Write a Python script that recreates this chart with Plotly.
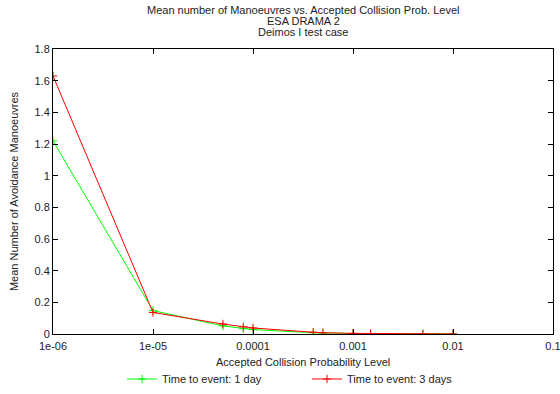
import math
import plotly.graph_objects as go

prob_levels = [1e-6, 1e-5, 5e-5, 8e-5, 1e-4, 4e-4, 5e-4, 1e-3, 1.5e-3, 5e-3, 1e-2]
mean_1day = [1.22, 0.148, 0.051, 0.034, 0.028, 0.008, 0.006, 0.003, 0.002, 0.0006, 0.0003]
mean_3days = [1.63, 0.136, 0.063, 0.045, 0.038, 0.011, 0.008, 0.004, 0.003, 0.001, 0.0005]

x_tickvals = [1e-6, 1e-5, 1e-4, 1e-3, 1e-2, 1e-1]
x_ticktext = ["1e-06", "1e-05", "0.0001", "0.001", "0.01", "0.1"]
y_tickvals = [0, 0.2, 0.4, 0.6, 0.8, 1.0, 1.2, 1.4, 1.6, 1.8]
y_ticktext = ["0", "0.2", "0.4", "0.6", "0.8", "1", "1.2", "1.4", "1.6", "1.8"]
minor_x = [m * 10.0 ** e for e in range(-6, -1) for m in (2, 5, 8)]

title_lines = ["Mean number of Manoeuvres vs. Accepted Collision Prob. Level",
               "ESA DRAMA 2", "Deimos I test case"]
x_title = "Accepted Collision Probability Level"
y_title = "Mean Number of Avoidance Manoeuvres"

FONT = "Liberation Sans, Arial, sans-serif"
TXT = "#222"

fig = go.Figure()
fig.add_trace(go.Scatter(
    x=prob_levels, y=mean_1day, mode="lines+markers", name="Time to event: 1 day",
    line=dict(color="#00ff00", width=1),
    marker=dict(symbol="cross-thin", size=6, line=dict(color="#00ff00", width=1)),
))
fig.add_trace(go.Scatter(
    x=prob_levels, y=mean_3days, mode="lines+markers", name="Time to event: 3 days",
    line=dict(color="#ff0000", width=1),
    marker=dict(symbol="cross-thin", size=6, line=dict(color="#ff0000", width=1)),
))

axis_common = dict(showline=True, linecolor="black", linewidth=1, mirror="ticks",
                   ticks="inside", ticklen=5, tickcolor="black", showgrid=False,
                   zeroline=False, automargin=False, ticklabeloverflow="allow",
                   tickfont=dict(size=11, color=TXT, family=FONT))

fig.update_xaxes(type="log", range=[-6, -0.99999], tickmode="array", tickvals=x_tickvals,
                 ticktext=x_ticktext, ticklabelstandoff=2, **axis_common)
fig.update_yaxes(range=[0, 1.8], tickmode="array", tickvals=y_tickvals, ticktext=y_ticktext,
                 title=dict(text=y_title, font=dict(size=11, color=TXT, family=FONT), standoff=13),
                 **axis_common)

# minor ticks (bottom and mirrored top)
tick_h = 3 / 285
for v in minor_x:
    lv = math.log10(v)
    for y0, y1 in ((0, tick_h), (1 - tick_h, 1)):
        fig.add_shape(type="line", xref="x", yref="paper", x0=lv, x1=lv, y0=y0, y1=y1,
                      line=dict(color="black", width=1))

for i, line in enumerate(title_lines):
    fig.add_annotation(text=line, xref="paper", yref="paper", x=0.5, y=1,
                       yshift=39 - 11 * i, xanchor="center", yanchor="middle",
                       showarrow=False, font=dict(size=11, color=TXT, family=FONT))

fig.add_annotation(text=x_title, xref="paper", yref="paper", x=0.5, y=0, yshift=-28,
                   xanchor="center", yanchor="middle", showarrow=False,
                   font=dict(size=11, color=TXT, family=FONT))

fig.update_layout(
    width=560, height=394,
    margin=dict(l=53, r=7, t=49, b=60, autoexpand=False),
    paper_bgcolor="white", plot_bgcolor="white",
    font=dict(family=FONT, size=11, color=TXT),
    showlegend=True,
    legend=dict(orientation="h", xref="container", yref="container",
                x=122 / 560, xanchor="left", y=1 - 379 / 394, yanchor="middle",
                entrywidth=140, entrywidthmode="pixels",
                font=dict(size=11, color=TXT, family=FONT), bgcolor="rgba(0,0,0,0)"),
)

fig.write_html("out.html")
